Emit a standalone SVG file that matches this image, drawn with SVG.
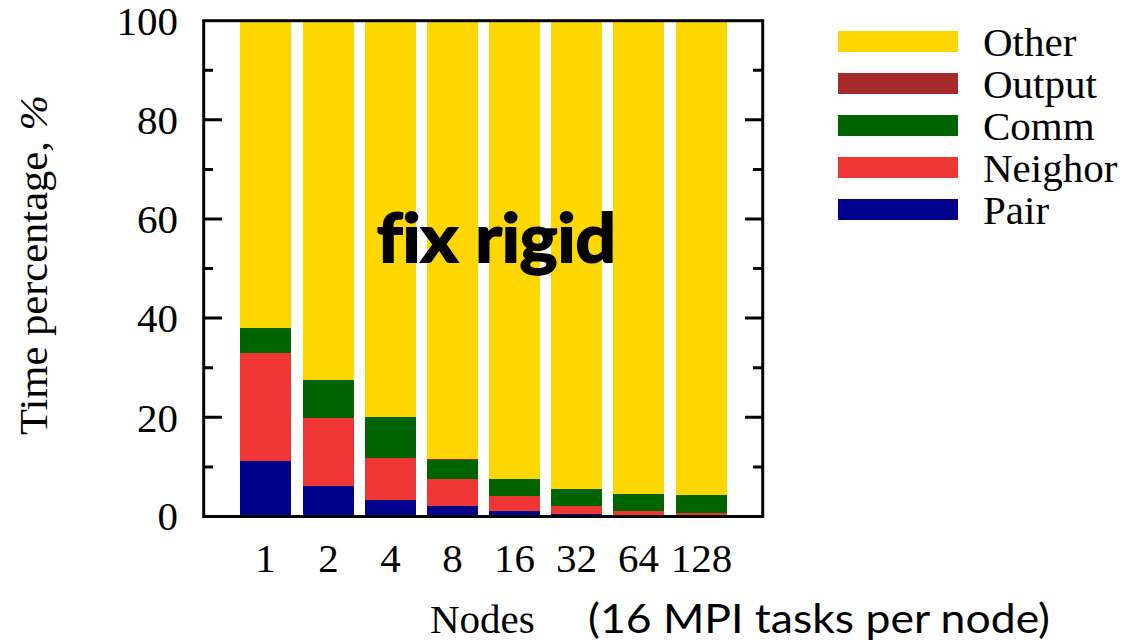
<svg xmlns="http://www.w3.org/2000/svg" width="1128" height="644" viewBox="0 0 1128 644">
<style>
.serif{font-family:"Liberation Serif","Times New Roman",serif;font-size:41px;fill:#000}
.sans{font-family:"Lato","Liberation Sans",sans-serif;fill:#000}
.ax{stroke:#000;stroke-width:3;fill:none}
.other{fill:#FFD700}.output{fill:#A52A2A}.comm{fill:#006400}.neigh{fill:#F03535}.pair{fill:#00008B}
</style>
<rect width="1128" height="644" fill="#fff"/>
<g id="bars">
<g id="bar1"><rect class="other" x="240" y="22" width="51" height="494.5"/><rect class="comm" x="240" y="328" width="51" height="25"/><rect class="neigh" x="240" y="353" width="51" height="108"/><rect class="pair" x="240" y="461" width="51" height="55.5"/></g>
<g id="bar2"><rect class="other" x="303" y="22" width="51" height="494.5"/><rect class="comm" x="303" y="380" width="51" height="38"/><rect class="neigh" x="303" y="418" width="51" height="68"/><rect class="pair" x="303" y="486" width="51" height="30.5"/></g>
<g id="bar4n"><rect class="other" x="365" y="22" width="51" height="494.5"/><rect class="comm" x="365" y="417" width="51" height="41"/><rect class="neigh" x="365" y="458" width="51" height="42"/><rect class="pair" x="365" y="500" width="51" height="16.5"/></g>
<g id="bar8"><rect class="other" x="427" y="22" width="51" height="494.5"/><rect class="output" x="427" y="459" width="51" height="1"/><rect class="comm" x="427" y="460" width="51" height="19"/><rect class="neigh" x="427" y="479" width="51" height="27"/><rect class="pair" x="427" y="506" width="51" height="10.5"/></g>
<g id="bar16"><rect class="other" x="489" y="22" width="51" height="494.5"/><rect class="comm" x="489" y="479" width="51" height="17"/><rect class="neigh" x="489" y="496" width="51" height="15"/><rect class="pair" x="489" y="511" width="51" height="5.5"/></g>
<g id="bar32"><rect class="other" x="551" y="22" width="51" height="494.5"/><rect class="comm" x="551" y="489" width="51" height="17"/><rect class="neigh" x="551" y="506" width="51" height="8"/><rect class="pair" x="551" y="514" width="51" height="2.5"/></g>
<g id="bar64"><rect class="other" x="613" y="22" width="51" height="494.5"/><rect class="comm" x="613" y="494" width="51" height="17"/><rect class="neigh" x="613" y="511" width="51" height="4"/><rect class="pair" x="613" y="515" width="51" height="1.5"/></g>
<g id="bar128"><rect class="other" x="676" y="22" width="51" height="494.5"/><rect class="comm" x="676" y="495" width="51" height="18"/><rect class="neigh" x="676" y="513" width="51" height="3.5"/></g>
</g>
<g id="axes">
<rect class="ax" x="203.7" y="20.7" width="559" height="495.8"/>
<path class="ax" d="M203.7 417.3H222M203.7 318.1H222M203.7 219H222M203.7 119.8H222M203.7 466.9H213M203.7 367.7H213M203.7 268.6H213M203.7 169.4H213M203.7 70.3H213"/>
<path class="ax" d="M762.7 417.3H745M762.7 318.1H745M762.7 219H745M762.7 119.8H745M762.7 466.9H753M762.7 367.7H753M762.7 268.6H753M762.7 169.4H753M762.7 70.3H753"/>
</g>
<g id="ylabels" class="serif" text-anchor="end">
<text x="178" y="35">100</text>
<text x="178" y="134">80</text>
<text x="178" y="233">60</text>
<text x="178" y="332">40</text>
<text x="178" y="432">20</text>
<text x="178" y="530">0</text>
</g>
<g id="xlabels" class="serif" text-anchor="middle">
<text x="265.5" y="572">1</text>
<text x="328.5" y="572">2</text>
<text x="390.5" y="572">4</text>
<text x="452.5" y="572">8</text>
<text x="514.5" y="572">16</text>
<text x="576.5" y="572">32</text>
<text x="638.5" y="572">64</text>
<text x="701.5" y="572">128</text>
</g>
<text id="ytitle" class="serif" transform="translate(47,265) rotate(-90)" text-anchor="middle" textLength="340" lengthAdjust="spacingAndGlyphs">Time percentage, <tspan font-style="italic">%</tspan></text>
<text id="xtitle" class="serif" x="430" y="633">Nodes</text>
<text id="xnote" class="sans" x="588" y="633" font-size="40" textLength="462" lengthAdjust="spacingAndGlyphs">(16 MPI tasks per node)</text>
<text id="title" class="sans" x="377" y="262" font-size="66" font-weight="bold" stroke="#000" stroke-width="2" style="font-variant-ligatures:none" textLength="239" lengthAdjust="spacingAndGlyphs">fix rigid</text>
<g id="legend">
<rect class="other" x="838" y="31" width="120" height="21"/>
<rect class="output" x="838" y="73" width="120" height="21"/>
<rect class="comm" x="838" y="115" width="120" height="21"/>
<rect class="neigh" x="838" y="157" width="120" height="21"/>
<rect class="pair" x="838" y="199" width="120" height="21"/>
<g class="serif">
<text x="983" y="56">Other</text>
<text x="983" y="98">Output</text>
<text x="983" y="140">Comm</text>
<text x="983" y="182">Neighor</text>
<text x="983" y="224">Pair</text>
</g>
</g>
</svg>
